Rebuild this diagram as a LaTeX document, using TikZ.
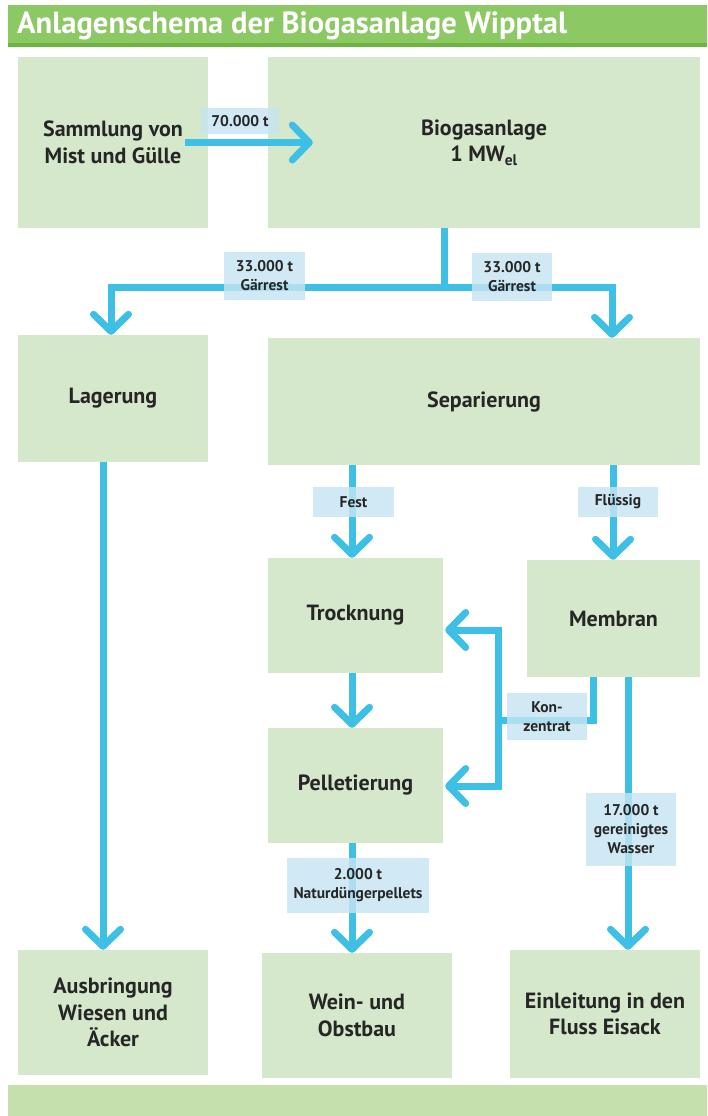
\documentclass[tikz,border=0pt]{standalone}
\usepackage{fontspec}
\setmainfont{PT Sans}
\usetikzlibrary{arrows.meta,calc}
\definecolor{titleg}{HTML}{8CC864}
\definecolor{titled}{HTML}{6DB33F}
\definecolor{boxg}{HTML}{D6E8CB}
\definecolor{footg}{HTML}{C5E0AD}
\definecolor{arrb}{HTML}{3EC0E6}
\definecolor{labb}{HTML}{C6E5F2}
\definecolor{txt}{HTML}{262626}
\begin{document}
\begin{tikzpicture}[x=1pt,y=-1pt,
  box/.style={fill=boxg,draw=none,align=center,text=txt,inner sep=0pt,
    font=\fontsize{22}{26.5}\selectfont\bfseries},
  lab/.style={fill=labb,fill opacity=0.82,text opacity=1,draw=none,align=center,
    text=txt,inner sep=0pt,font=\fontsize{15.5}{19}\selectfont\bfseries},
  conn/.style={draw=arrb,line width=7pt},
  arr/.style={conn,-{Straight Barb[round,length=17pt,width=35pt]}}]
\useasboundingbox (0,0) rectangle (707,1116);
\fill[white] (0,0) rectangle (707,1116);
% title and footer
\fill[titleg] (8,5) rectangle (707,44);
\fill[titled] (8,43) rectangle (707,47);
\node[anchor=west,text=white,inner sep=0pt,font=\fontsize{30.6}{33}\selectfont\bfseries] (title) at (17,26) {Anlagenschema der Biogasanlage Wipptal};
\fill[footg] (8,1085) rectangle (707,1116);
% boxes
\node[box,minimum width=190pt,minimum height=171pt] (samm) at (113,142.5) {Sammlung von\\Mist und Gülle};
\node[box,minimum width=432pt,minimum height=171pt] (bio) at (484,142.5) {Biogasanlage\\1 MW\textsubscript{el}};
\node[box,minimum width=190pt,minimum height=127pt] (lag) at (113,398.5) {Lagerung};
\node[box,minimum width=432pt,minimum height=127pt] (sep) at (484,401.5) {Separierung};
\node[box,minimum width=175pt,minimum height=115pt] (troc) at (355.5,615.5) {Trocknung};
\node[box,minimum width=173pt,minimum height=117pt] (mem) at (613.5,618.5) {Membran};
\node[box,minimum width=175pt,minimum height=115pt] (pel) at (355.5,785.5) {Pelletierung};
\node[box,minimum width=190pt,minimum height=125pt] (aus) at (113,1012.5) {Ausbringung\\Wiesen und\\Äcker};
\node[box,minimum width=190pt,minimum height=125pt] (wein) at (357,1015.5) {Wein- und\\Obstbau};
\node[box,minimum width=190pt,minimum height=128pt] (ein) at (605,1014) {Einleitung in den\\Fluss Eisack};
% connectors
\draw[arr] ($(samm.east)+(-23,0)$) -- ($(bio.west)+(45,0)$);
\coordinate (split) at (444,287);
\coordinate (jl) at (111,287);
\coordinate (jr) at (612,287);
\draw[conn] (split |- bio.south) -- (split);
\draw[arr] (split) -- (jl) -- (jl |- lag.north);
\draw[arr] (split) -- (jr) -- (jr |- sep.north);
\draw[arr] (lag.south -| 103,0) -- (aus.north -| 103,0);
\draw[arr] (sep.south -| 352,0) -- (troc.north -| 352,0);
\draw[arr] (sep.south -| 613,0) -- (mem.north -| 613,0);
\draw[arr] (troc.south -| 352,0) -- (pel.north -| 352,0);
\draw[arr] (pel.south -| 352,0) -- (wein.north -| 352,0);
\draw[arr] (mem.south -| 628,0) -- (ein.north -| 628,0);
\coordinate (k) at (498,720);
\draw[conn] (mem.south -| 593,0) -- (593,720) -- (k);
\draw[arr] ($(k)+(0,3.5)$) -- (498,630) -- ($(troc.east)+(2,14.5)$);
\draw[arr] ($(k)+(0,-3.5)$) -- (498,786) -- ($(pel.east)+(2,0.5)$);
% labels
\node[lab,minimum width=78pt,minimum height=26pt] (l70) at (240,121) {70.000 t};
\node[lab,minimum width=81pt,minimum height=48pt] (lg1) at (264.5,276) {33.000 t\\Gärrest};
\node[lab,minimum width=80pt,minimum height=48pt] (lg2) at (512,277) {33.000 t\\Gärrest};
\node[lab,minimum width=81pt,minimum height=30pt] (lfest) at (353.5,502) {Fest};
\node[lab,minimum width=80pt,minimum height=30pt] (lfl) at (618,502) {Flüssig};
\node[lab,minimum width=80pt,minimum height=47pt] (lkon) at (547,716.5) {Kon-\\zentrat};
\node[lab,minimum width=90pt,minimum height=73pt] (lwas) at (631,829.5) {17.000 t\\gereinigtes\\Wasser};
\node[lab,minimum width=142pt,minimum height=55pt] (lnat) at (358,885.5) {2.000 t\\Naturdüngerpellets};
\end{tikzpicture}
\end{document}
